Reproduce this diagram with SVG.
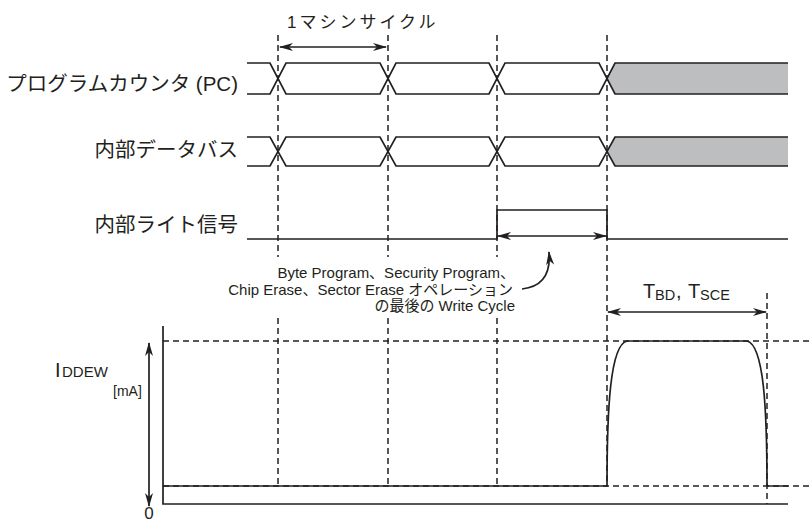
<svg xmlns="http://www.w3.org/2000/svg" width="812" height="523" viewBox="0 0 812 523">
<style>
  text { font-family: "Liberation Sans", "Noto Sans CJK JP", sans-serif; fill: #231f20; }
  .lbl { font-size: 20.5px; text-anchor: end; }
  .sig { fill: none; stroke: #231f20; stroke-width: 1.7; stroke-linejoin: miter; }
  .dash { fill: none; stroke: #231f20; stroke-width: 1.5; stroke-dasharray: 6 4; }
  .arr { fill: none; stroke: #231f20; stroke-width: 1.7; marker-start: url(#ah); marker-end: url(#ah); }
  .gray { fill: #bcbec0; stroke: none; }
  .note { font-size: 15px; text-anchor: end; }
</style>
<defs>
  <marker id="ah" viewBox="0 0 14 8" refX="13" refY="4" markerWidth="14" markerHeight="8" markerUnits="userSpaceOnUse" orient="auto-start-reverse">
    <path d="M0,0 L14,4 L0,8 L4,4 Z" fill="#231f20"/>
  </marker>
</defs>

<g id="guides">
  <path class="dash" d="M278,35 V257 M278,318 V486"/>
  <path class="dash" d="M388,35 V257 M388,318 V486"/>
  <path class="dash" d="M497,35 V257 M497,318 V486"/>
  <path class="dash" d="M607,35 V486"/>
  <path class="dash" d="M767,293 V504"/>
  <path class="dash" d="M163,341 H812"/>
  <path class="dash" d="M163,486 H812"/>
</g>

<g id="pc">
  <text class="lbl" x="238" y="91">プログラムカウンタ (PC)</text>
  <path class="gray" d="M607,78.5 L615,63 H788 V94 H615 Z"/>
  <path class="sig" d="M247,63 H270 L286,94 H380 L396,63 H489 L505,94 H599 L615,63 H788"/>
  <path class="sig" d="M247,94 H270 L286,63 H380 L396,94 H489 L505,63 H599 L615,94 H788"/>
</g>

<g id="databus">
  <text class="lbl" x="238" y="157">内部データバス</text>
  <path class="gray" d="M607,151.5 L615,137 H788 V166 H615 Z"/>
  <path class="sig" d="M247,137 H270 L286,166 H380 L396,137 H489 L505,166 H599 L615,137 H788"/>
  <path class="sig" d="M247,166 H270 L286,137 H380 L396,166 H489 L505,137 H599 L615,166 H788"/>
</g>

<g id="write">
  <text class="lbl" x="238" y="232">内部ライト信号</text>
  <path class="sig" d="M247,239 H497 V210 H607 V239 H788"/>
</g>

<g id="note">
  <text class="note" x="515" y="278">Byte Program、Security Program、</text>
  <text class="note" x="513" y="295">Chip Erase、Sector Erase オペレーション</text>
  <text class="note" x="515" y="311">の最後の Write Cycle</text>
</g>

<g id="machine-cycle">
  <text x="287" y="28" font-size="17" letter-spacing="3">1マシンサイクル</text>
</g>

<g id="tbd">
  <text y="298" font-size="20"><tspan x="643">T</tspan><tspan x="655" y="300" font-size="14.5">BD</tspan><tspan x="676" y="298" font-size="20">,</tspan><tspan x="688" y="298" font-size="20">T</tspan><tspan x="700" y="300" font-size="14.5">SCE</tspan></text>
</g>

<g id="current">
  <path class="sig" d="M163,326 V504 H788"/>
  <path class="sig" d="M163,486 H607 C607,410 610,345 627,341 H747 C764,345 767,410 767,486 H788"/>
  <text x="55" y="377" font-size="20">I</text>
  <text x="62" y="377" font-size="15">DDEW</text>
  <text x="113" y="396" font-size="14">[mA]</text>
  <text x="149" y="519" font-size="17" text-anchor="middle">0</text>
</g>

<g id="connectors">
  <path class="arr" d="M280,47 H386"/>
  <path class="arr" d="M498,236 H606"/>
  <path class="arr" d="M608,312 H766"/>
  <path class="arr" d="M149,343 V506"/>
  <path fill="none" stroke="#231f20" stroke-width="1.7" marker-end="url(#ah)" d="M522,289 C541,287 551,275 549,252"/>
</g>
</svg>
